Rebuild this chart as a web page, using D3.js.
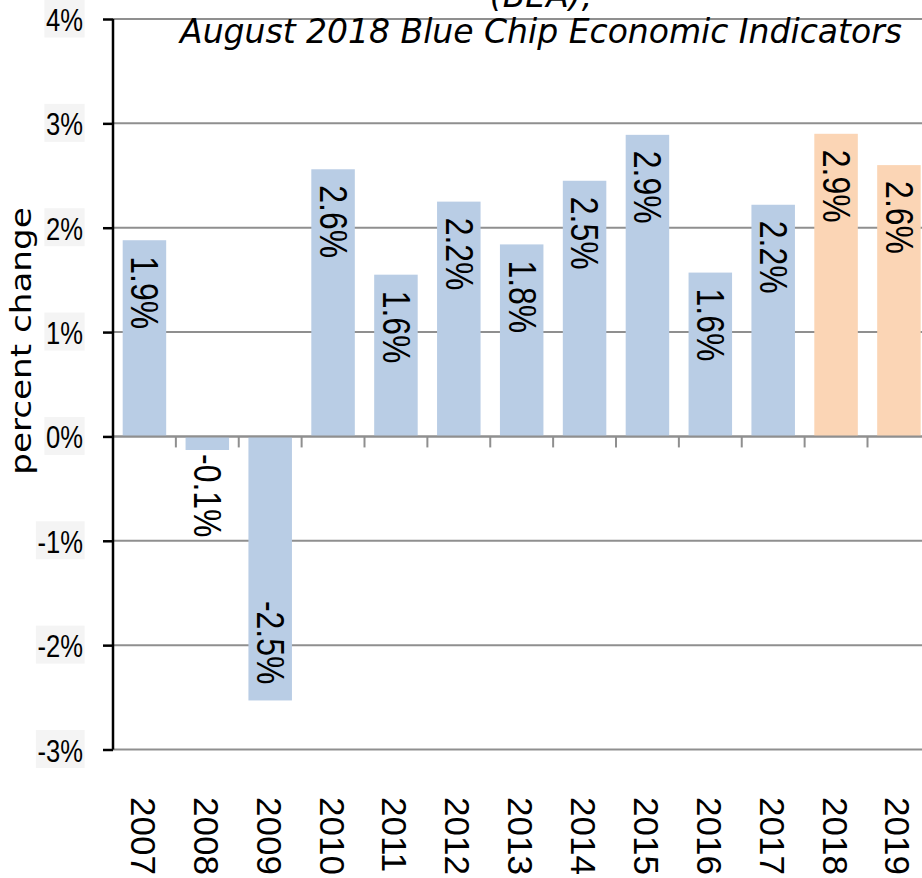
<!DOCTYPE html>
<html>
<head>
<meta charset="utf-8">
<script src="https://cdn.jsdelivr.net/npm/d3@7"></script>
<style>
  body { margin: 0; background: #fff; }
  svg { display: block; font-family: "Liberation Sans", sans-serif; }
</style>
</head>
<body>
<div id="chart"></div>
<script>
// values
const years = ["2007","2008","2009","2010","2011","2012","2013","2014","2015","2016","2017","2018","2019"]
const growth = [1.88, -0.13, -2.53, 2.56, 1.55, 2.25, 1.84, 2.45, 2.89, 1.57, 2.22, 2.9, 2.6]
const labels = ["1.9%","-0.1%","-2.5%","2.6%","1.6%","2.2%","1.8%","2.5%","2.9%","1.6%","2.2%","2.9%","2.6%"]
const forecast = [false,false,false,false,false,false,false,false,false,false,false,true,true]
const yTicks = [-3,-2,-1,0,1,2,3,4]

const width = 922, height = 878
const plotLeft = 113, plotTop = 19, plotBottom = 749.5, step = 62.875

const svg = d3.select("#chart").append("svg").attr("width", width).attr("height", height)

const x = d3.scaleBand().domain(years).range([plotLeft, plotLeft + years.length*step]).paddingInner(0.308).paddingOuter(0.154)
const y = d3.scaleLinear().domain([-3, 4]).range([plotBottom, plotTop])

// gridlines
svg.append("g").selectAll("line").data(yTicks).enter()
  .append("line")
  .attr("x1", plotLeft).attr("x2", width)
  .attr("y1", d => y(d)).attr("y2", d => y(d))
  .attr("stroke", "#8f8f8f").attr("stroke-width", 2)

// bars
svg.append("g").selectAll("rect").data(growth).enter()
  .append("rect")
  .attr("x", (d,i) => x(years[i]))
  .attr("width", x.bandwidth())
  .attr("y", d => y(Math.max(0, d)))
  .attr("height", d => Math.abs(y(d) - y(0)))
  .attr("fill", (d,i) => forecast[i] ? "#fbd5b5" : "#b9cde5")

// x axis line + ticks between categories
svg.append("line").attr("x1", plotLeft).attr("x2", width).attr("y1", y(0)).attr("y2", y(0))
  .attr("stroke", "#8f8f8f").attr("stroke-width", 2)
svg.append("g").selectAll("line").data(d3.range(1, years.length + 1)).enter()
  .append("line")
  .attr("x1", d => plotLeft + d*x.step()).attr("x2", d => plotLeft + d*x.step())
  .attr("y1", y(0)).attr("y2", y(0) + 11)
  .attr("stroke", "#8f8f8f").attr("stroke-width", 2)

// data labels, rotated; short negative bar gets its label outside
// (font squeezed along the text, the original is a narrow face)
const shortBar = d => Math.abs(y(d) - y(0)) < 90
svg.append("g").selectAll("text").data(growth).enter()
  .append("text")
  .attr("transform", (d,i) => {
    const cx = x(years[i]) + x.bandwidth()/2
    let yy
    if (d >= 0) yy = y(d) + 16
    else if (shortBar(d)) yy = y(d) + 4
    else yy = y(d) - 16
    return `translate(${cx},${yy}) rotate(90) scale(0.82,1)`
  })
  .attr("text-anchor", d => (d < 0 && !shortBar(d)) ? "end" : "start")
  .attr("dominant-baseline", "central")
  .attr("font-size", 39)
  .text((d,i) => labels[i])

// y axis
const yAxis = svg.append("g").attr("transform", `translate(${plotLeft},0)`)
  .call(d3.axisLeft(y).tickValues(yTicks).tickFormat(d => d + "%").tickSize(10))
yAxis.select(".domain").remove()
yAxis.selectAll(".tick line").attr("stroke", "#000").attr("stroke-width", 2.5)
yAxis.selectAll(".tick text")
  .attr("x", 0).attr("dy", "0.36em")
  .attr("transform", "translate(-30,0) scale(0.8,1)")
  .attr("font-size", 32).attr("fill", "#000").attr("font-family", "Liberation Sans")
yAxis.selectAll(".tick").each(function() {
  const t = d3.select(this).select("text")
  const b = t.node().getBBox()
  d3.select(this).insert("rect", "text")
    .attr("x", -30 + (b.x - 2)*0.8).attr("y", -20).attr("width", (b.width + 4)*0.8).attr("height", 38)
    .attr("fill", "#f4f4f4")
})
svg.append("line").attr("x1", plotLeft).attr("x2", plotLeft).attr("y1", plotTop).attr("y2", plotBottom)
  .attr("stroke", "#000").attr("stroke-width", 2.5)

// x axis labels
svg.append("g").selectAll("text").data(years).enter()
  .append("text")
  .attr("transform", d => `translate(${x(d) + x.bandwidth()/2 - 1},797) rotate(90)`)
  .attr("dominant-baseline", "central")
  .attr("font-size", 35)
  .text(d => d)

// axis title
svg.append("text")
  .attr("transform", "translate(21,341) rotate(-90) scale(1.22,1)")
  .attr("text-anchor", "middle").attr("dominant-baseline", "central")
  .attr("font-family", "DejaVu Sans")
  .attr("font-size", 28)
  .text("percent change")

// title (top line cut off in the picture)
svg.append("text").attr("x", 541).attr("y", 7).attr("text-anchor", "middle")
  .attr("font-family", "DejaVu Sans")
  .attr("font-size", 33).attr("font-style", "italic").text("(BEA),")
svg.append("text").attr("x", 541).attr("y", 43).attr("text-anchor", "middle")
  .attr("font-family", "DejaVu Sans")
  .attr("font-size", 33).attr("font-style", "italic")
  .text("August 2018 Blue Chip Economic Indicators")
</script>
</body>
</html>
